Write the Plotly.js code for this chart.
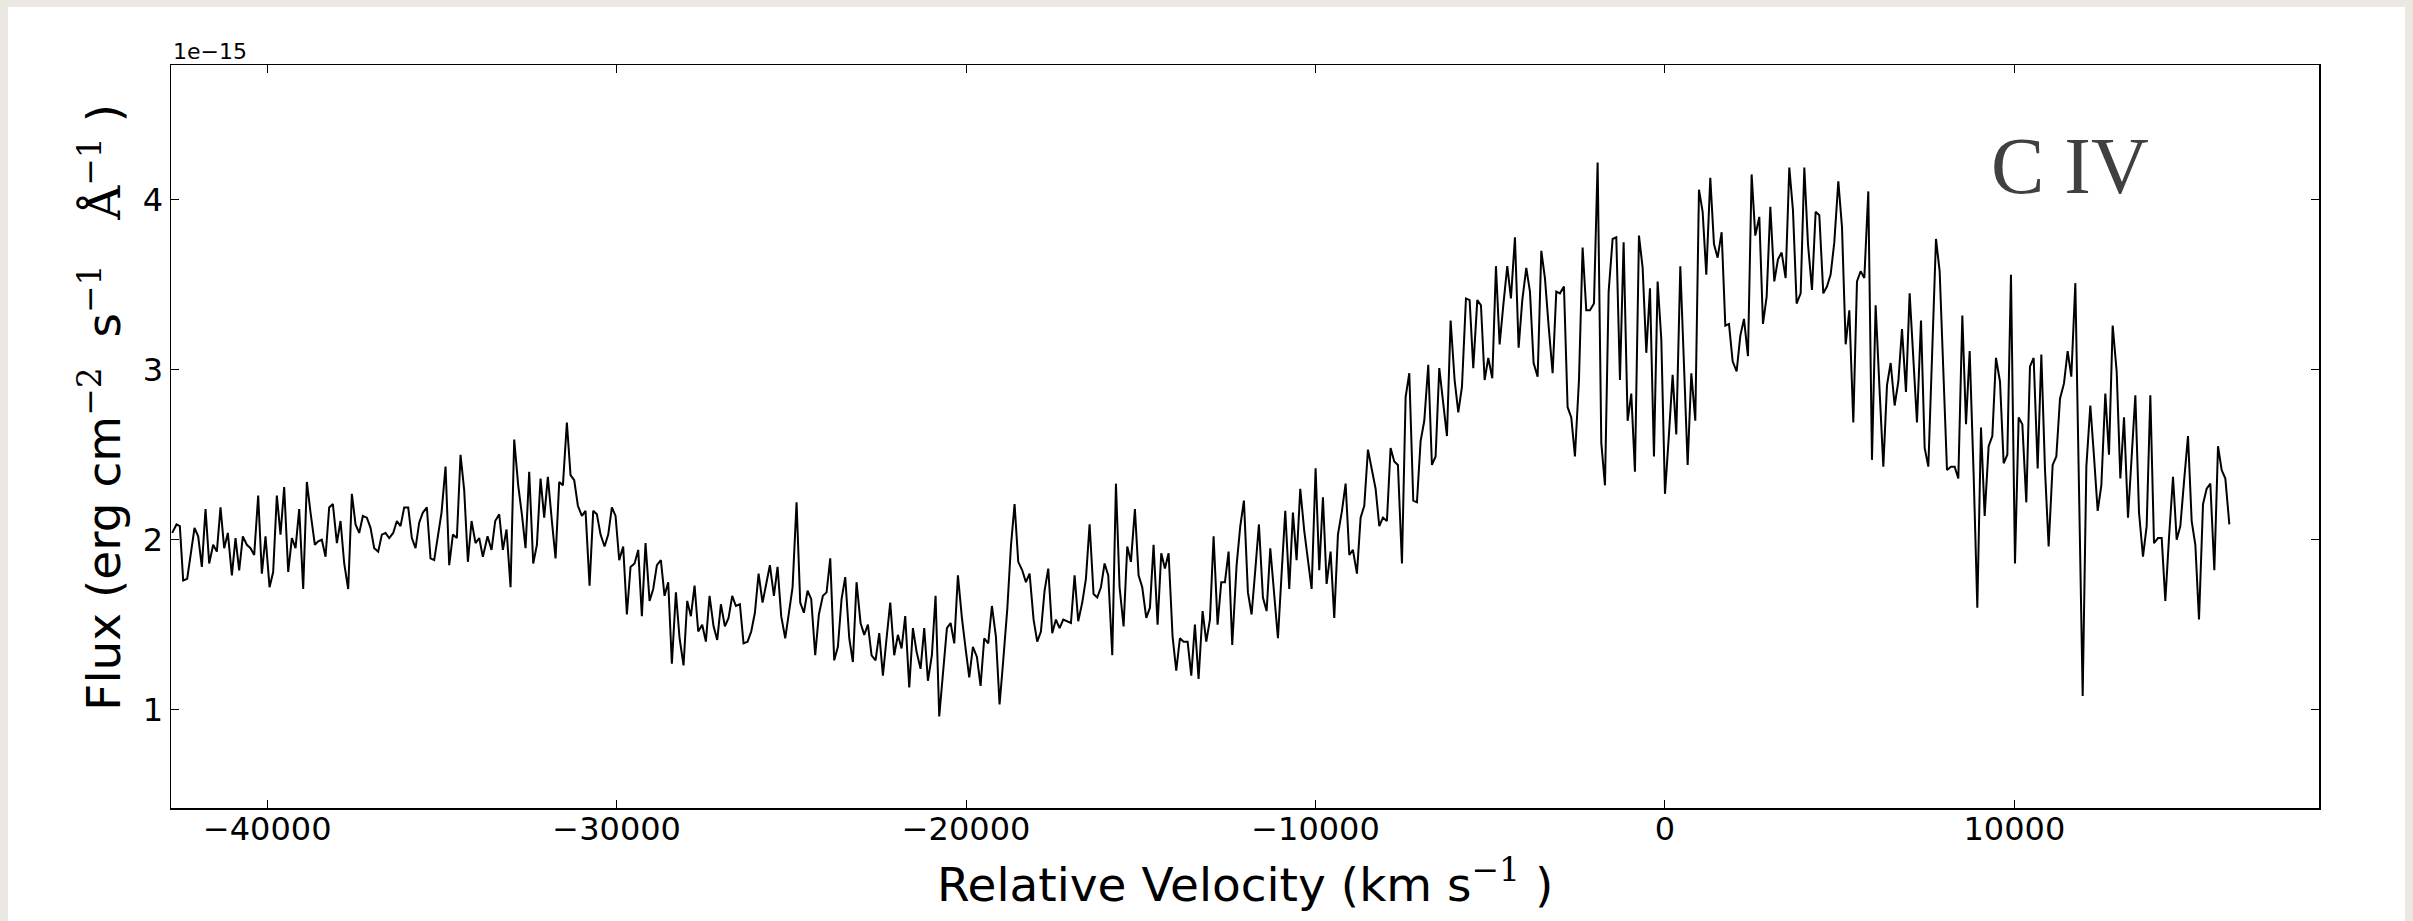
<!DOCTYPE html>
<html>
<head>
<meta charset="utf-8">
<script src="https://cdn.plot.ly/plotly-3.0.1.min.js"></script>
<style>
html,body{margin:0;padding:0;background:#ebe8e2;width:2413px;height:921px;overflow:hidden;}
#chart{position:absolute;left:8px;top:7px;width:2397px;height:914px;background:#fff;}
</style>
</head>
<body>
<div id="chart"></div>
<script>
// Relative velocity (km s^-1)
const velocity = [
-42720,-42596,-42501,-42405,-42291,-42186,-42081,-41976,-41871,-41766,
-41661,-41547,-41442,-41337,-41232,-41127,-41012,-40908,-40803,-40698,
-40583,-40478,-40373,-40259,-40154,-40049,-39934,-39830,-39725,-39620,
-39515,-39400,-39295,-39190,-39085,-38971,-38866,-38761,-38637,-38542,
-38437,-38332,-38227,-38122,-38007,-37902,-37797,-37683,-37578,-37473,
-37368,-37263,-37149,-37044,-36939,-36824,-36720,-36615,-36510,-36395,
-36290,-36185,-36080,-35966,-35861,-35756,-35651,-35546,-35432,-35327,
-35222,-35117,-35012,-34897,-34792,-34687,-34573,-34468,-34363,-34258,
-34153,-34039,-33934,-33829,
-33695,-33581,-33476,-33361,-33257,-33152,-33037,-32932,-32818,-32713,
-32608,-32503,-32388,-32283,-32178,-32074,-31969,-31854,-31749,-31644,
-31539,-31425,-31320,-31215,-31110,-30996,-30891,-30776,-30671,-30566,
-30461,-30347,-30242,-30137,-30032,-29927,-29813,-29708,-29603,-29488,
-29383,-29279,-29174,-29059,-28954,-28849,-28735,-28630,-28525,-28420,
-28305,-28200,-28086,-27981,-27876,-27771,-27666,-27552,-27447,-27342,
-27227,-27122,-27017,-26903,-26798,-26693,
-26588,-26474,-26369,-26254,-26149,-26044,-25939,-25825,-25720,-25615,
-25500,-25396,-25291,-25176,-25071,-24966,-24852,-24747,-24642,-24537,
-24432,-24318,-24213,-24098,-23993,-23888,-23774,-23669,-23564,-23459,
-23344,-23240,-23135,-23020,-22915,-22810,-22705,-22591,-22486,-22381,
-22276,-22171,-22057,-21952,-21847,-21742,-21627,-21522,-21417,-21303,
-21198,-21093,-20979,-20874,-20769,-20664,-20549,-20444,-20339,-20234,
-20120,-20015,-19910,-19805,-19691,-19586,-19481,
-19366,-19261,-19147,-19042,-18937,-18822,-18718,-18613,-18508,-18393,
-18288,-18183,-18069,-17964,-17859,-17754,-17649,-17535,-17430,-17325,
-17220,-17105,-17000,-16895,-16791,-16676,-16571,-16466,-16352,-16247,
-16142,-16037,-15932,-15817,-15712,-15608,-15493,-15388,-15283,-15169,
-15064,-14959,-14844,-14739,-14635,-14520,-14415,-14310,-14205,-14091,
-13986,-13881,-13776,-13661,-13556,-13452,-13347,-13232,-13127,-13022,
-12917,-12803,-12698,-12593,-12488,-12384,
-12259,-12154,-12049,-11935,-11830,-11725,-11620,-11505,-11400,-11295,
-11190,-11076,-10971,-10866,-10752,-10647,-10542,-10437,-10322,-10217,
-10112,-9998,-9893,-9788,-9683,-9569,-9464,-9359,-9244,-9139,
-9034,-8930,-8815,-8710,-8605,-8500,-8386,-8281,-8176,-8071,
-7957,-7852,-7747,-7642,-7527,-7422,-7317,-7203,-7098,-6993,
-6888,-6774,-6669,-6564,-6459,-6344,-6239,-6134,-6020,-5915,
-5810,-5695,-5590,-5486,-5371,-5266,
-5161,-5056,-4942,-4837,-4732,-4617,-4513,-4408,-4293,-4188,
-4083,-3969,-3864,-3759,-3644,-3539,-3435,-3330,-3215,-3110,
-3005,-2891,-2786,-2681,-2576,-2461,-2357,-2252,-2147,-2032,
-1927,-1822,-1717,-1612,-1498,-1393,-1288,-1183,-1069,-964,
-859,-744,-639,-534,-429,-315,-210,-105,0,114,
219,324,439,544,649,754,868,973,1078,1183,
1297,1402,1507,1622,1727,1832,1937,
2051,2156,2261,2375,2480,2585,2700,2805,2910,3015,
3129,3234,3339,3453,3558,3663,3768,3883,3988,4093,
4207,4312,4417,4531,4636,4741,4846,4961,5066,5171,
5276,5390,5495,5600,5705,5819,5924,6029,6144,6249,
6354,6459,6573,6678,6783,6897,7002,7107,7212,7327,
7432,7537,7641,7756,7861,7966,8071,8185,8290,8395,
8510,8615,8720,8834,8939,9044,
9149,9263,9368,9473,9588,9693,9798,9902,10017,10122,
10227,10341,10446,10551,10666,10771,10876,10980,11095,11200,
11305,11419,11524,11629,11744,11849,11954,12059,12173,12278,
12383,12488,12602,12707,12812,12927,13032,13137,13251,13356,
13461,13566,13680,13785,13890,13995,14110,14215,14319,14424,
14539,14644,14749,14854,14968,15073,15178,15283,15398,15502,
15607,15722,15827,15932,16037,16151
];

// Flux in units of 1e-15 erg cm^-2 s^-1 A^-1
const flux = [
2.04,2.09,2.08,1.76,1.77,1.91,2.07,2.02,1.84,2.18,
1.86,1.97,1.93,2.19,1.95,2.04,1.79,2.01,1.82,2.02,
1.97,1.95,1.91,2.26,1.80,2.02,1.72,1.81,2.26,2.03,
2.31,1.81,2.01,1.95,2.18,1.71,2.34,2.16,1.97,1.99,
2.00,1.90,2.19,2.21,1.98,2.11,1.86,1.71,2.27,2.09,
2.04,2.14,2.13,2.07,1.95,1.93,2.03,2.04,2.01,2.04,
2.11,2.08,2.19,2.19,2.01,1.95,2.10,2.16,2.19,1.89,
1.88,2.02,2.16,2.43,1.85,2.03,2.01,2.50,2.29,1.87,
2.11,1.98,2.01,1.90,
2.02,1.94,2.11,2.15,1.94,2.06,1.72,2.59,2.32,2.15,
1.95,2.40,1.86,1.97,2.36,2.13,2.37,2.11,1.89,2.34,
2.32,2.69,2.38,2.35,2.20,2.14,2.17,1.73,2.17,2.15,
2.03,1.96,2.03,2.19,2.14,1.88,1.96,1.56,1.84,1.86,
1.94,1.55,1.98,1.64,1.71,1.85,1.88,1.67,1.75,1.27,
1.69,1.42,1.26,1.64,1.55,1.73,1.46,1.50,1.40,1.67,
1.49,1.41,1.62,1.49,1.54,1.67,
1.61,1.62,1.39,1.40,1.46,1.57,1.80,1.63,1.73,1.85,
1.67,1.84,1.55,1.42,1.57,1.72,2.22,1.63,1.57,1.70,
1.65,1.32,1.56,1.67,1.69,1.89,1.29,1.37,1.65,1.78,
1.42,1.28,1.75,1.51,1.44,1.50,1.32,1.29,1.45,1.20,
1.42,1.63,1.32,1.44,1.36,1.55,1.13,1.48,1.34,1.24,
1.48,1.17,1.32,1.67,0.96,1.21,1.48,1.51,1.39,1.79,
1.54,1.36,1.19,1.37,1.31,1.14,1.42,
1.39,1.61,1.43,1.03,1.29,1.59,1.96,2.21,1.87,1.82,
1.75,1.80,1.53,1.40,1.46,1.70,1.83,1.45,1.53,1.48,
1.53,1.52,1.51,1.79,1.52,1.63,1.77,2.09,1.68,1.66,
1.72,1.86,1.79,1.32,2.33,1.72,1.49,1.96,1.87,2.18,
1.79,1.72,1.54,1.60,1.97,1.50,1.92,1.83,1.92,1.43,
1.23,1.42,1.40,1.40,1.20,1.50,1.18,1.58,1.40,1.53,
2.02,1.50,1.75,1.75,1.93,1.38,
1.85,2.08,2.23,1.69,1.56,1.82,2.09,1.66,1.58,1.95,
1.68,1.42,1.80,2.17,1.71,2.16,1.88,2.30,2.05,1.87,
1.71,2.42,1.82,2.25,1.74,1.93,1.54,2.03,2.17,2.33,
1.91,1.94,1.80,2.13,2.20,2.53,2.42,2.30,2.08,2.13,
2.11,2.54,2.46,2.44,1.86,2.84,2.98,2.23,2.22,2.58,
2.70,3.03,2.44,2.49,3.01,2.78,2.61,3.29,2.94,2.75,
2.90,3.42,3.41,3.01,3.41,3.38,
2.94,3.07,2.95,3.61,3.15,3.40,3.61,3.42,3.78,3.13,
3.41,3.60,3.46,3.04,2.96,3.70,3.54,3.26,2.98,3.46,
3.45,3.49,2.78,2.72,2.49,2.94,3.72,3.35,3.35,3.39,
4.22,2.57,2.32,3.46,3.77,3.78,2.94,3.75,2.70,2.86,
2.40,3.79,3.60,3.10,3.48,2.49,3.52,3.18,2.27,2.62,
2.97,2.62,3.61,3.03,2.44,2.98,2.70,4.06,3.93,3.56,
4.13,3.74,3.66,3.81,3.26,3.27,3.05,
2.99,3.20,3.30,3.08,4.15,3.79,3.90,3.27,3.43,3.96,
3.52,3.65,3.69,3.54,4.19,3.94,3.39,3.45,4.19,3.74,
3.47,3.93,3.91,3.45,3.49,3.56,3.75,4.11,3.84,3.15,
3.35,2.69,3.52,3.58,3.54,4.05,2.47,3.38,2.87,2.43,
2.91,3.04,2.79,2.93,3.24,2.87,3.45,3.07,2.69,3.29,
2.54,2.43,3.10,3.77,3.58,2.99,2.41,2.43,2.43,2.36,
3.32,2.68,3.11,2.38,1.60,2.66,
2.14,2.55,2.61,3.07,2.93,2.45,2.50,3.56,1.86,2.72,
2.68,2.22,3.02,3.07,2.42,3.09,2.41,1.96,2.44,2.49,
2.83,2.92,3.11,2.96,3.51,2.30,1.08,2.43,2.79,2.49,
2.17,2.32,2.86,2.50,3.26,2.99,2.36,2.72,2.13,2.49,
2.85,2.16,1.90,2.08,2.85,1.98,2.01,2.01,1.64,2.01,
2.37,2.00,2.08,2.34,2.61,2.11,1.97,1.53,2.21,2.30,
2.33,1.82,2.55,2.41,2.36,2.09
];

const xTickValues = [-40000,-30000,-20000,-10000,0,10000];
const xTickLabels = ["\u221240000","\u221230000","\u221220000","\u221210000","0","10000"];
const yTickValues = [1,2,3,4];
const yTickLabels = ["1","2","3","4"];
const lineLabel = "C IV";
const offsetLabel = "1e\u221215";

const serifSup = (t) => "<sup><span style=\"font-family:'DejaVu Serif'\">" + t + "</span></sup>";
const xTitle = "Relative Velocity (km s" + serifSup("\u22121") + "\u00A0)";
const yTitle = "Flux (erg cm" + serifSup("\u22122") + "\u00A0\u00A0s" + serifSup("\u22121") +
  "\u00A0\u00A0\u00A0<span style=\"font-family:'DejaVu Serif'\">\u00C5</span>" + serifSup("\u22121") + "\u00A0)";

const trace = {
  x: velocity, y: flux, type: 'scatter', mode: 'lines',
  line: {color: '#000000', width: 2}, hoverinfo: 'skip'
};

const axisCommon = {
  ticks: 'inside', ticklen: 8, tickwidth: 1, tickcolor: '#000',
  mirror: 'allticks', showline: true, linecolor: '#000', linewidth: 1.5,
  showgrid: false, zeroline: false,
  tickfont: {family: 'DejaVu Sans', size: 32, color: '#000'}
};

const layout = {
  width: 2397, height: 914,
  margin: {l: 163, r: 86, t: 58, b: 113, pad: 0},
  paper_bgcolor: '#ffffff', plot_bgcolor: '#ffffff',
  showlegend: false,
  font: {family: 'DejaVu Sans', color: '#000'},
  xaxis: Object.assign({}, axisCommon, {
    range: [-42754, 18717], tickmode: 'array',
    tickvals: xTickValues, ticktext: xTickLabels, ticklabelstandoff: -8
  }),
  yaxis: Object.assign({}, axisCommon, {
    range: [0.421, 4.794], tickmode: 'array',
    tickvals: yTickValues, ticktext: yTickLabels
  }),
  annotations: [
    {text: offsetLabel, xref: 'paper', yref: 'paper', x: 0, y: 1.0176,
     xanchor: 'left', yanchor: 'middle', showarrow: false,
     font: {family: 'DejaVu Sans', size: 22, color: '#000'}},
    {text: lineLabel, xref: 'paper', yref: 'paper', x: 0.884, y: 0.8636,
     xanchor: 'center', yanchor: 'middle', showarrow: false,
     font: {family: 'Liberation Serif', size: 80, color: '#404040'}},
    {text: xTitle, xref: 'paper', yref: 'paper', x: 0.5, y: -0.098,
     xanchor: 'center', yanchor: 'middle', showarrow: false,
     font: {family: 'DejaVu Sans', size: 47, color: '#000'}},
    {text: yTitle, xref: 'paper', yref: 'paper', x: -0.033, y: 0.539,
     xanchor: 'center', yanchor: 'middle', showarrow: false, textangle: -90,
     font: {family: 'DejaVu Sans', size: 47, color: '#000'}}
  ]
};

Plotly.newPlot('chart', [trace], layout, {displayModeBar: false, staticPlot: true});
</script>
</body>
</html>
